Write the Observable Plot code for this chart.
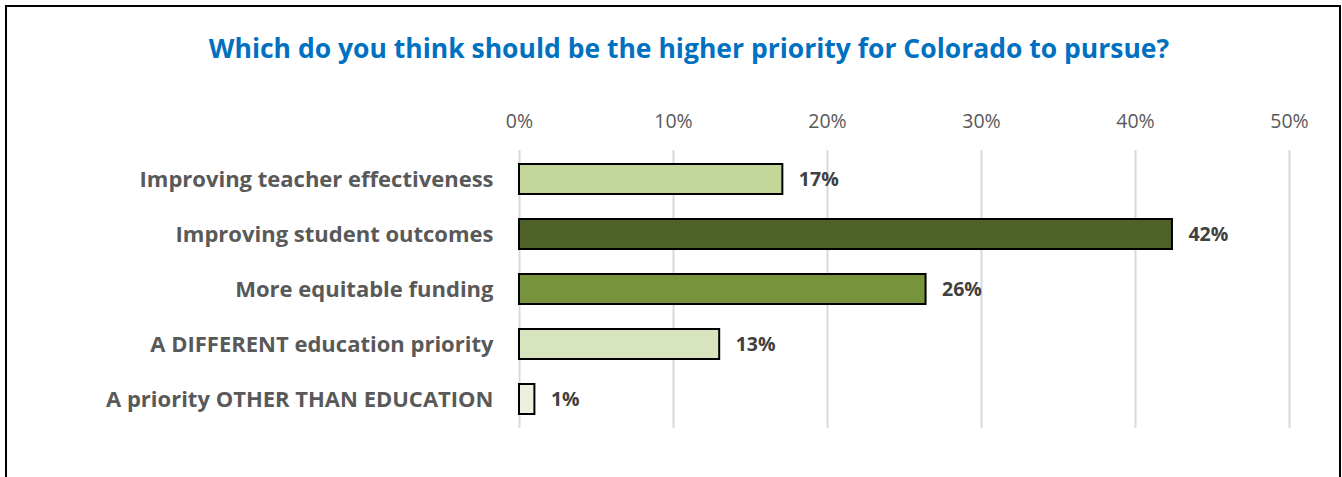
<!DOCTYPE html>
<html>
<head>
<meta charset="utf-8">
<script src="https://cdn.jsdelivr.net/npm/d3@7"></script>
<script src="https://cdn.jsdelivr.net/npm/@observablehq/plot@0.6"></script>
<style>
  html, body { margin: 0; padding: 0; background: #fff; }
  #wrap { position: relative; width: 1342px; height: 477px; overflow: hidden; }
  #frame { position: absolute; left: 5px; top: 5px; width: 1336px; height: 490px; border: 2px solid #000; box-sizing: border-box; }
  #title { position: absolute; left: 0; top: 32px; width: 1378px; text-align: center; line-height: 32px;
           font-family: "Open Sans", sans-serif; font-weight: bold; font-size: 26.5px; color: #0070c0; }
  #chart { position: absolute; left: 0; top: 0; }
</style>
</head>
<body>
<div id="wrap">
  <div id="frame"></div>
  <div id="title">Which do you think should be the higher priority for Colorado to pursue?</div>
  <div id="chart"></div>
</div>
<script>
const categories = [
  "Improving teacher effectiveness",
  "Improving student outcomes",
  "More equitable funding",
  "A DIFFERENT education priority",
  "A priority OTHER THAN EDUCATION"
];
const values = [17.1, 42.4, 26.4, 13.0, 1.0];
const labels = ["17%", "42%", "26%", "13%", "1%"];
const colors = ["#c4d79b", "#4f6228", "#77933c", "#d7e4bd", "#ebf1de"];
const ticks = [0, 10, 20, 30, 40, 50];

const data = categories.map((c, i) => ({cat: c, value: values[i], label: labels[i], color: colors[i]}));

const chart = Plot.plot({
  width: 1342,
  height: 477,
  marginLeft: 519,
  marginRight: 53,
  marginTop: 150,
  marginBottom: 49,
  style: {fontFamily: "'Open Sans', sans-serif", background: "transparent"},
  x: {domain: [0, 50], ticks: ticks, axis: null},
  y: {domain: categories, paddingInner: 0.46, paddingOuter: 0.23, axis: null},
  marks: [
    Plot.ruleX(ticks, {x: d => d, stroke: "#d9d9d9", strokeWidth: 2}),
    Plot.axisX(ticks, {anchor: "top", label: null, tickSize: 0, tickPadding: 23, tickFormat: d => d + "%",
      fontSize: 19.5, fill: "#595959"}),
    Plot.axisY({anchor: "left", label: null, tickSize: 0, tickPadding: 26, fontSize: 22, fontWeight: "bold", fill: "#595959"}),
    Plot.barX(data, {y: "cat", x: "value", fill: "color", stroke: "#000", strokeWidth: 2}),
    Plot.text(data, {y: "cat", x: "value", text: "label", textAnchor: "start", dx: 16,
      fontSize: 19.5, fontWeight: "bold", fill: "#404040"})
  ]
});
document.getElementById("chart").appendChild(chart);
</script>
</body>
</html>
